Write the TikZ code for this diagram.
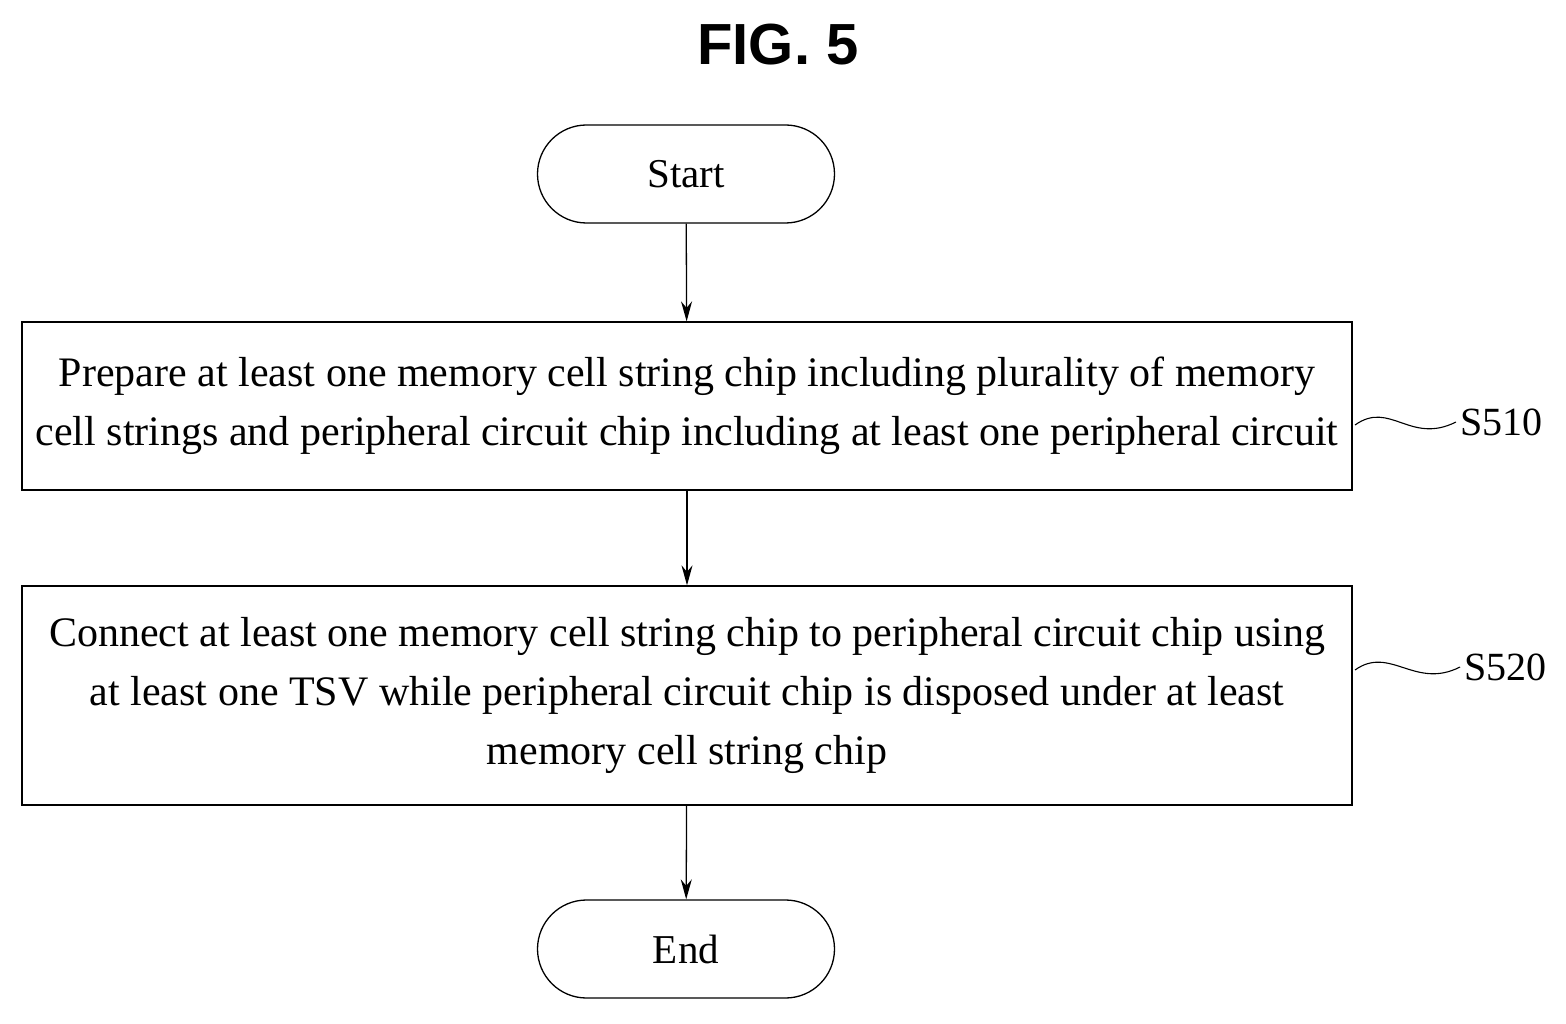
\documentclass[tikz,border=0pt]{standalone}
\usepackage{fontspec}
\usetikzlibrary{arrows.meta}
\setmainfont{Liberation Serif}
\newfontfamily\titlefont{Liberation Sans}
\begin{document}
\begin{tikzpicture}[x=1pt,y=-1pt,
  term/.style={draw,line width=1.3pt,rounded corners=49pt,minimum width=297pt,minimum height=98pt,inner sep=0pt,font=\fontsize{41}{48}\selectfont},
  procbox/.style={draw,line width=1.3pt,minimum width=1330pt,inner sep=0pt,align=center,font=\fontsize{42}{59}\selectfont},
  arr/.style={line width=1.3pt,-{Stealth[length=20pt,width=11pt]}},
  wav/.style={line width=1.1pt},
  lbl/.style={font=\fontsize{40}{48}\selectfont,anchor=west,inner sep=4pt}]
\useasboundingbox (0,0) rectangle (1566,1024);
\node[font=\titlefont\bfseries\fontsize{58}{60}\selectfont] (title) at (778,45) {FIG. 5};
\node[term] (start) at (686,174) {Start};
\node[procbox,minimum height=168pt] (s1) at (687,406) {Prepare at least one memory cell string chip including plurality of memory\\cell strings and peripheral circuit chip including at least one peripheral circuit};
\node[procbox,minimum height=219pt] (s2) at (687,695.5) {Connect at least one memory cell string chip to peripheral circuit chip using\\at least one TSV while peripheral circuit chip is disposed under at least\\memory cell string chip};
\node[term] (end) at (686,949) {End};
\draw[arr] (start) -- (s1);
\draw[arr] (s1) -- (s2);
\draw[arr] (s2) -- (end);
\node[lbl] (l1) at (1456,422) {S510};
\node[lbl] (l2) at (1460,667) {S520};
\coordinate (w1a) at (1355,425);
\coordinate (w2a) at (1355,670);
\draw[wav] (w1a) .. controls (1390,400) and (1410,445) .. (l1.west);
\draw[wav] (w2a) .. controls (1390,645) and (1415,690) .. (l2.west);
\end{tikzpicture}
\end{document}
